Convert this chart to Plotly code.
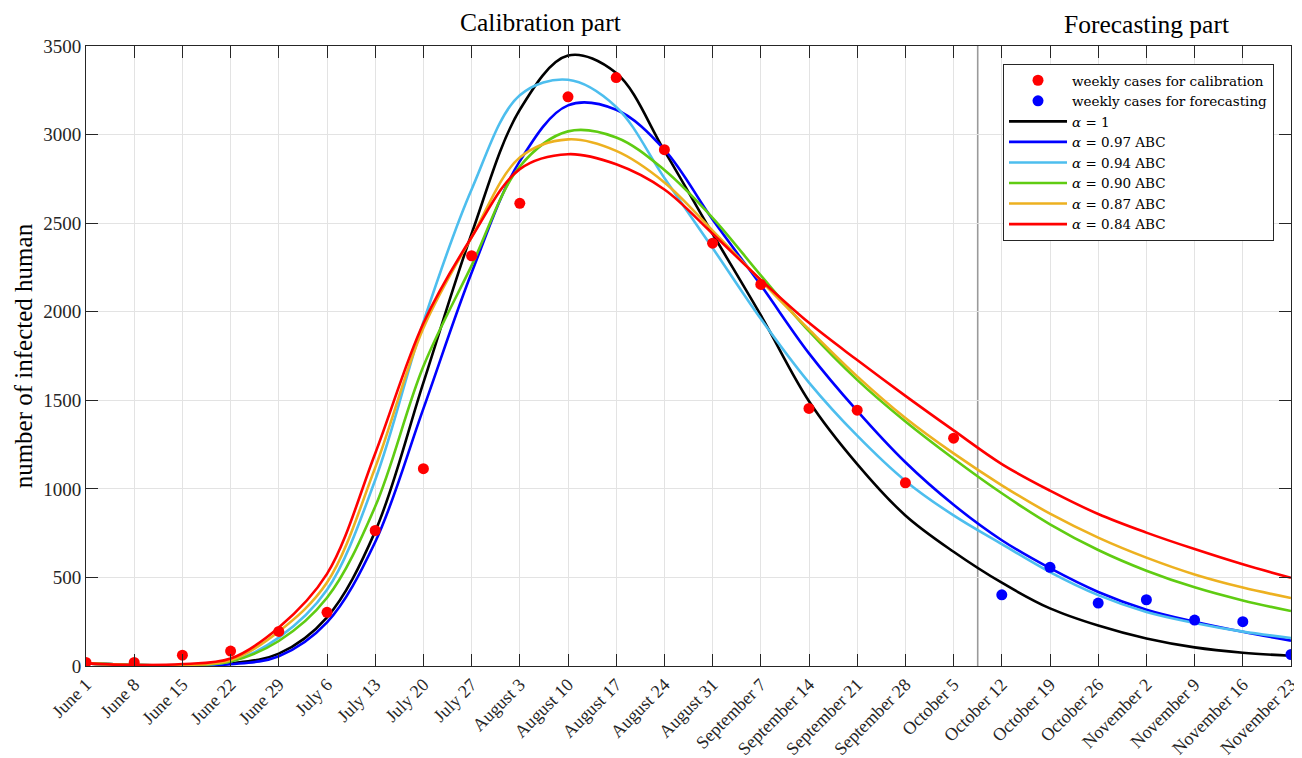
import plotly.graph_objects as go

weeks = ["June 1", "June 8", "June 15", "June 22", "June 29", "July 6", "July 13", "July 20",
         "July 27", "August 3", "August 10", "August 17", "August 24", "August 31",
         "September 7", "September 14", "September 21", "September 28", "October 5",
         "October 12", "October 19", "October 26", "November 2", "November 9",
         "November 16", "November 23"]

calib_cases = [20, 20, 61, 84, 195, 303, 765, 1114, 2316, 2612, 3213, 3322, 2915, 2387,
               2154, 1454, 1444, 1034, 1286]
forecast_cases = [402, 557, 355, 374, 259, 250, 65]

alpha_1 = [15, 6, 5, 15, 70, 275, 760, 1600, 2440, 3140, 3446, 3347, 2908, 2440, 1980,
           1495, 1140, 850, 645, 470, 325, 228, 155, 105, 75, 58]
alpha_097 = [15, 6, 4, 10, 55, 246, 700, 1453, 2220, 2850, 3165, 3140, 2915, 2520, 2150,
             1765, 1440, 1150, 910, 710, 552, 418, 318, 250, 193, 143]
alpha_094 = [15, 6, 4, 25, 160, 430, 1050, 1942, 2690, 3222, 3309, 3156, 2755, 2360, 1960,
             1600, 1300, 1045, 850, 688, 530, 400, 305, 243, 194, 158]
alpha_090 = [15, 6, 5, 25, 141, 385, 900, 1692, 2260, 2820, 3018, 2984, 2800, 2530, 2205,
             1890, 1615, 1380, 1170, 975, 800, 655, 538, 444, 370, 310]
alpha_087 = [15, 6, 6, 32, 195, 471, 1120, 1908, 2420, 2870, 2973, 2908, 2730, 2458, 2176,
             1900, 1635, 1400, 1200, 1020, 860, 725, 612, 517, 443, 384]
alpha_084 = [15, 6, 11, 42, 217, 520, 1200, 1935, 2420, 2805, 2889, 2832, 2690, 2440, 2180,
             1937, 1727, 1525, 1330, 1140, 990, 858, 753, 660, 574, 498]

curve_names = ["<i>α</i> = 1", "<i>α</i> = 0.97 ABC", "<i>α</i> = 0.94 ABC",
               "<i>α</i> = 0.90 ABC", "<i>α</i> = 0.87 ABC", "<i>α</i> = 0.84 ABC"]
curve_values = [alpha_1, alpha_097, alpha_094, alpha_090, alpha_087, alpha_084]
curve_colors = ["#000000", "#0000ff", "#4dbeee", "#5fcc12", "#edb120", "#ff0000"]

FONT = "Liberation Serif"
x_all = list(range(len(weeks)))
n_cal = len(calib_cases)
x_cal = x_all[:n_cal]
x_fc = x_all[n_cal:n_cal + len(forecast_cases)]

fig = go.Figure()
for i, (name, vals, col) in enumerate(zip(curve_names, curve_values, curve_colors)):
    fig.add_trace(go.Scatter(x=x_all, y=vals, mode="lines", name=name,
                             line=dict(color=col, width=2.6, shape="spline", smoothing=1.0),
                             legendrank=10 + i))

fig.add_trace(go.Scatter(x=x_cal, y=calib_cases, mode="markers",
                         name="weekly cases for calibration",
                         marker=dict(color="#ff0000", size=11), legendrank=1))
fig.add_trace(go.Scatter(x=x_fc, y=forecast_cases, mode="markers",
                         name="weekly cases for forecasting",
                         marker=dict(color="#0000ff", size=11), legendrank=2))

split_x = n_cal - 0.5
fig.add_shape(type="line", xref="x", yref="y", x0=split_x, x1=split_x, y0=0, y1=3500,
              line=dict(color="#9a9a9a", width=1.6), layer="below")

axis_common = dict(showline=True, linecolor="#262626", linewidth=1, mirror="ticks",
                   ticks="inside", ticklen=12, tickcolor="#262626", tickwidth=1,
                   showgrid=True, gridcolor="#e3e3e3", gridwidth=1, zeroline=False,
                   automargin=False)

fig.update_xaxes(range=[0, len(weeks) - 1], tickmode="array", tickvals=x_all,
                 ticktext=weeks, tickangle=-45,
                 tickfont=dict(family=FONT, size=18, color="#262626"), **axis_common)
fig.update_yaxes(range=[0, 3500], tickmode="array",
                 tickvals=[0, 500, 1000, 1500, 2000, 2500, 3000, 3500],
                 tickfont=dict(family=FONT, size=19, color="#262626"), **axis_common)

fig.add_annotation(text="Calibration part", xref="x", yref="paper", x=9.43, y=1.038,
                   showarrow=False, yanchor="middle",
                   font=dict(family=FONT, size=25.5, color="#000000"))
fig.add_annotation(text="Forecasting part", xref="x", yref="paper", x=22.0, y=1.034,
                   showarrow=False, yanchor="middle",
                   font=dict(family=FONT, size=25.5, color="#000000"))
fig.add_annotation(text="number of infected human", xref="paper", yref="paper",
                   x=-0.052, y=0.5, textangle=-90, showarrow=False,
                   xanchor="center", yanchor="middle",
                   font=dict(family=FONT, size=25, color="#000000"))

# page body has an 8px default margin, so the figure is sized to fit the window
fig.update_layout(
    width=1294, height=750,
    margin=dict(l=78, r=11, t=38, b=92, autoexpand=False),
    paper_bgcolor="white", plot_bgcolor="white",
    showlegend=True,
    legend=dict(x=0.761, y=0.971, xanchor="left", yanchor="top",
                bgcolor="white", bordercolor="#262626", borderwidth=1,
                itemwidth=58,
                font=dict(family="DejaVu Serif", size=13.5, color="#000000"),
                tracegroupgap=0, traceorder="normal"),
)

fig.write_html("out.html")
